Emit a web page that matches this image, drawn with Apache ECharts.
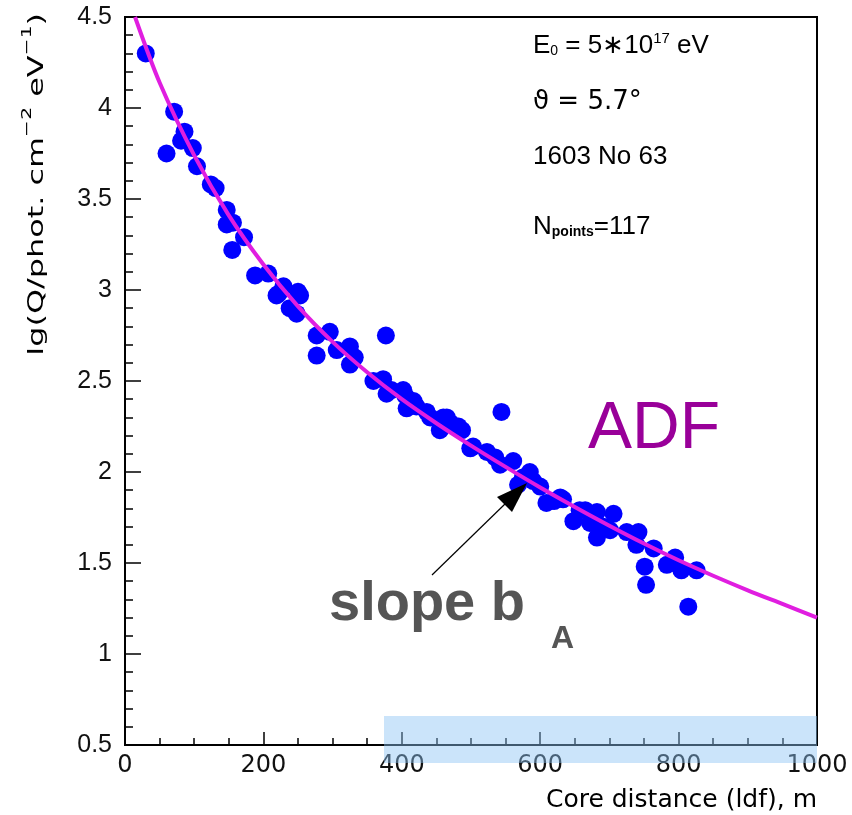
<!DOCTYPE html>
<html><head><meta charset="utf-8">
<script src="https://cdn.jsdelivr.net/npm/echarts@6/dist/echarts.min.js"></script>
<style>html,body{margin:0;padding:0;background:#fff}#c{width:852px;height:815px}</style>
</head><body><div id="c"></div>
<script>
// ---- data ----
const xTickLabels = ['0','200','400','600','800','1000'];
const yTickLabels = ['0.5','1','1.5','2','2.5','3','3.5','4','4.5'];

const coreDistance = [30,60,71,81,86,98,104,124,131,147,147,156,155,172,188,207,219,222,229,238,248,250,253,
  277,277,296,306,325,332,325,377,359,373,378,385,402,405,407,417,421,436,441,455,460,465,470,479,482,487,
  499,503,523,535,542,544,561,568,575,585,590,600,609,620,629,633,648,657,665,672,682,682,690,701,706,725,
  739,742,751,753,764,783,795,804,814,826];
const lgQ = [4.30,3.75,3.98,3.82,3.87,3.78,3.68,3.58,3.56,3.44,3.36,3.37,3.22,3.29,3.08,3.09,2.97,2.98,3.02,2.90,2.87,2.99,2.97,
  2.75,2.64,2.77,2.67,2.69,2.63,2.59,2.75,2.50,2.51,2.43,2.45,2.45,2.42,2.35,2.39,2.36,2.33,2.30,2.23,2.30,2.30,2.27,2.25,2.25,2.23,
  2.13,2.14,2.11,2.08,2.04,2.33,2.06,1.93,1.97,2.00,1.95,1.92,1.83,1.84,1.86,1.85,1.73,1.79,1.79,1.72,1.78,1.64,1.70,1.68,1.77,1.67,
  1.60,1.67,1.48,1.38,1.58,1.49,1.53,1.46,1.26,1.46];

// ADF fit curve
const fitDistance = [14.5,50,100,150,200,250,300,350,400,450,500,550,600,650,700,750,800,850,900,950,1000];
const fitLgQ      = [4.50,4.14,3.74,3.41,3.14,2.91,2.715,2.548,2.400,2.268,2.145,2.028,1.915,1.808,1.705,1.607,1.515,1.430,1.350,1.275,1.200];

const points = coreDistance.map((x,i)=>[x,lgQ[i]]);
const fit = fitDistance.map((x,i)=>[x,fitLgQ[i]]);

const chart = echarts.init(document.getElementById('c'), null, {renderer:'canvas'});
const sans = 'Liberation Sans, Arial, Helvetica, sans-serif';
const deja = 'DejaVu Sans, sans-serif';

chart.setOption({
  animation:false,
  backgroundColor:'#fff',
  grid:{left:125, top:17, right:35, bottom:70, show:true, borderColor:'#000', borderWidth:2, backgroundColor:'transparent'},
  xAxis:{
    type:'value', min:0, max:1000, interval:200,
    axisLine:{show:true, onZero:false, lineStyle:{color:'#000', width:2}},
    axisTick:{show:true, inside:true, length:13, lineStyle:{color:'#000', width:1.5}},
    minorTick:{show:true, splitNumber:4, length:7, lineStyle:{color:'#000', width:1.5}},
    splitLine:{show:false},
    axisLabel:{margin:9, fontSize:24, fontFamily:deja, color:'#111',
      formatter:(v)=>xTickLabels[Math.round(v/200)]}
  },
  yAxis:{
    type:'value', min:0.5, max:4.5, interval:0.5,
    axisLine:{show:true, onZero:false, lineStyle:{color:'#000', width:2}},
    axisTick:{show:true, inside:true, length:16, lineStyle:{color:'#000', width:1.5}},
    minorTick:{show:true, splitNumber:5, length:8, lineStyle:{color:'#000', width:1.5}},
    splitLine:{show:false},
    axisLabel:{margin:13, fontSize:25, fontFamily:sans, color:'#111',
      formatter:(v)=>yTickLabels[Math.round((v-0.5)/0.5)]}
  },
  series:[
    {type:'scatter', data:points, symbol:'circle', symbolSize:18, itemStyle:{color:'#0000ff', opacity:1}, z:2},
    {type:'line', data:fit, smooth:0.3, showSymbol:false, lineStyle:{color:'#e01ee0', width:4}, z:3}
  ],
  graphic:[
    // y-axis title (rotated)
    {type:'text', x:34, y:13, rotation:Math.PI/2, scaleX:1.45, z:10,
      style:{text:'{n|lg(Q/phot. cm}{s|−2}{n| eV}{s|−1}{n|)}', align:'right', verticalAlign:'middle',
        rich:{n:{fontSize:22, fontFamily:deja, fill:'#000', lineHeight:28, verticalAlign:'bottom'},
              s:{fontSize:14, fontFamily:deja, fill:'#000', lineHeight:28, verticalAlign:'top'}}}},
    // x-axis title
    {type:'text', x:817, y:800, z:10,
      style:{text:'Core distance (ldf), m', align:'right', verticalAlign:'middle', fontSize:25, fontFamily:deja, fill:'#000'}},
    // info texts
    {type:'text', x:533, y:46, z:10,
      style:{text:'{a|E}{b|0}{a| = 5∗10}{c|17}{a| eV}', align:'left', verticalAlign:'middle',
        rich:{a:{fontSize:26, fontFamily:sans, fill:'#000', lineHeight:30},
              b:{fontSize:14, fontFamily:sans, fill:'#000', lineHeight:30, padding:[10,0,0,0]},
              c:{fontSize:15, fontFamily:sans, fill:'#000', lineHeight:30, padding:[0,0,14,0]}}}},
    {type:'text', x:533, y:102, z:10,
      style:{text:'ϑ = 5.7°', align:'left', verticalAlign:'middle', fontSize:26, fontFamily:'DejaVu Sans, Liberation Sans', fill:'#000'}},
    {type:'text', x:533, y:157, z:10,
      style:{text:'1603 No 63', align:'left', verticalAlign:'middle', fontSize:26, fontFamily:sans, fill:'#000'}},
    {type:'text', x:533, y:227, z:10,
      style:{text:'{a|N}{b|points}{a|=117}', align:'left', verticalAlign:'middle',
        rich:{a:{fontSize:26, fontFamily:sans, fill:'#000', lineHeight:30},
              b:{fontSize:14, fontWeight:'bold', fontFamily:sans, fill:'#000', lineHeight:30, padding:[10,0,0,0]}}}},
    // ADF label
    {type:'text', x:588, y:430, z:10,
      style:{text:'ADF', align:'left', verticalAlign:'middle', fontSize:66, fontFamily:sans, fill:'#990099'}},
    // slope b_A
    {type:'text', x:329, y:605, z:10,
      style:{text:'slope b', align:'left', verticalAlign:'middle', fontSize:56, fontWeight:'bold', fontFamily:sans, fill:'#555555'}},
    {type:'text', x:551, y:639, z:10,
      style:{text:'A', align:'left', verticalAlign:'middle', fontSize:32, fontWeight:'bold', fontFamily:sans, fill:'#555555'}},
    // arrow
    {type:'line', z:10, shape:{x1:432, y1:575, x2:506, y2:503}, style:{stroke:'#000', lineWidth:1.2}},
    {type:'polygon', z:10, shape:{points:[[527,483],[497,497],[512,512]]}, style:{fill:'#000'}},
    // light blue overlay band
    {type:'rect', z:100, shape:{x:384, y:716, width:433, height:47}, style:{fill:'rgba(140,195,245,0.45)'}}
  ]
});
</script></body></html>
